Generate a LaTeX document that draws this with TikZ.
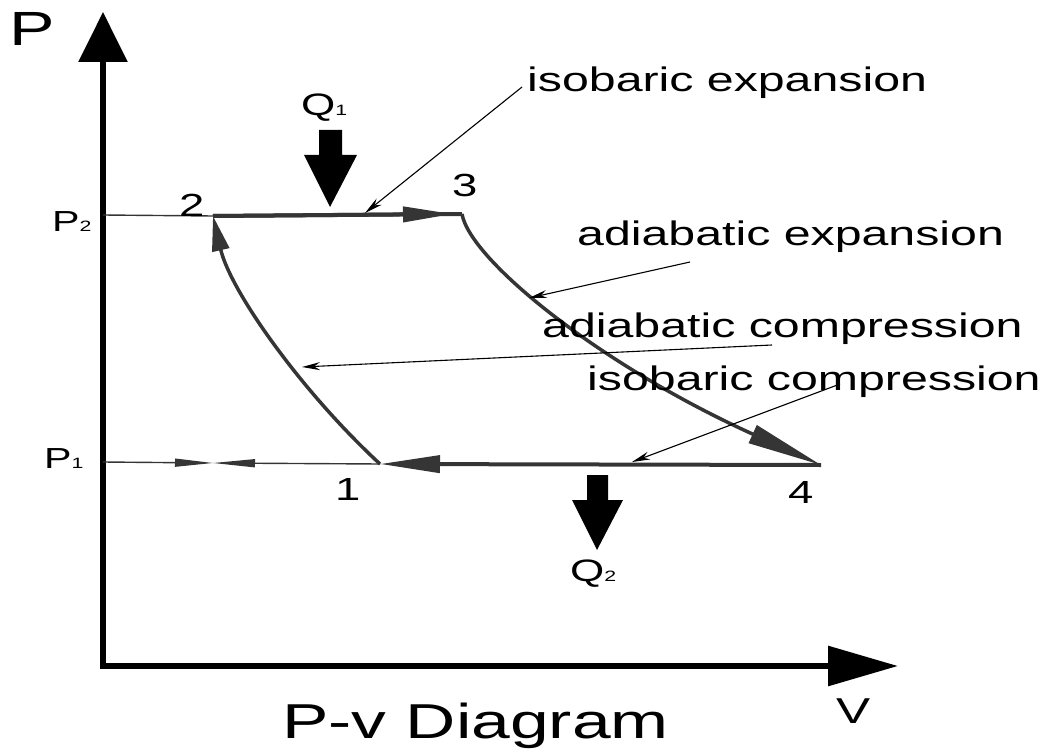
\documentclass[tikz,border=0pt]{standalone}
\usepackage{fontspec}
\setmainfont{Liberation Sans}[FakeStretch=1.42]
\usetikzlibrary{arrows.meta}
\definecolor{cyc}{HTML}{353535}
\begin{document}
\begin{tikzpicture}[x=1pt,y=-1pt,
  lbl/.style={inner sep=0pt, anchor=base west, font=\fontsize{34}{38}\selectfont},
  num/.style={inner sep=0pt, anchor=base west, font=\fontsize{32}{36}\selectfont},
  sym/.style={inner sep=0pt, anchor=base west, font=\fontsize{31}{34}\selectfont},
  pointer/.style={draw=black, line width=1.1pt, -{Stealth[length=18pt,width=8pt]}},
  thinline/.style={draw=cyc, line width=1.4pt},
  isobar/.style={draw=cyc, line width=4pt},
  adiabat/.style={draw=cyc, line width=3.5pt},
  heat/.style={fill=black},
]
\useasboundingbox (0,0) rectangle (1043,751);

% key points
\coordinate (O) at (103,666);
\coordinate (Ytip) at (103,12);
\coordinate (Xtip) at (898,666);
\coordinate (c1) at (380,464);
\coordinate (c2) at (213,216);
\coordinate (c3) at (462,214);
\coordinate (c4) at (821,465);
\coordinate (a23) at (453,214);
\coordinate (p2ax) at (103,215);
\coordinate (p1ax) at (103,462);
\coordinate (p1m) at (213,463);

% axes
\draw[line width=6pt, line join=miter,
  {Triangle[length=50pt,width=48pt]}-{Triangle[length=70pt,width=39pt]}]
  (Ytip) -- (O) -- (Xtip);

% pressure guide lines
\draw[thinline] (p2ax) -- (c2);
\draw[thinline, -{Triangle[length=38pt,width=8pt]}] (p1ax) -- (p1m);
\draw[thinline, -{Triangle[length=42pt,width=8pt]}] (c1) -- (p1m);

% cycle
\draw[isobar] (c2) -- (c3);
\draw[isobar, -{Triangle[length=50pt,width=15pt]}] (c2) -- (a23);
\draw[adiabat, -{Triangle[length=75pt,width=19pt]}] (c3) .. controls (470,260) and (600,365) .. (c4);
\draw[isobar, -{Triangle[length=60pt,width=17pt]}] (c4) -- (c1);
\draw[adiabat, -{Triangle[length=35pt,width=17pt]}] (c1) .. controls (300,390) and (230,290) .. (c2);

% heat arrows
\fill[heat] (319,130) -- (342,130) -- (342,155) -- (357,155) -- (330,207) -- (304,155) -- (319,155) -- cycle;
\fill[heat] (587,475) -- (608,475) -- (608,500) -- (623,500) -- (597,550) -- (572,500) -- (587,500) -- cycle;

% axis labels
\node[inner sep=0pt, anchor=base west, font=\fontsize{48}{52}\selectfont] (Plab) at (9,46) {P};
\node[inner sep=0pt, anchor=base west, font=\fontsize{36}{40}\selectfont] (Vlab) at (836,723) {V};
\node[inner sep=0pt, anchor=base west, font=\fontsize{49}{56}\selectfont] (title) at (282,738) {P-v Diagram};
\node[sym, font=\fontsize{29}{32}\selectfont] (P2) at (52,232) {P{\fontsize{15}{15}\selectfont 2}};
\node[sym, font=\fontsize{29}{32}\selectfont] (P1) at (44,468) {P{\fontsize{15}{15}\selectfont 1}};
\node[sym] (Q1) at (301,116) {Q{\fontsize{15}{15}\selectfont 1}};
\node[sym] (Q2) at (570,581) {Q{\fontsize{15}{15}\selectfont 2}};

% state numbers
\node[num] (n1) at (335,500) {1};
\node[num] (n2) at (179,217) {2};
\node[num] (n3) at (452,197) {3};
\node[num] (n4) at (788,503) {4};

% process labels
\node[lbl] (tIE) at (527,92) {isobaric expansion};
\node[lbl] (tAE) at (577,246) {adiabatic expansion};
\node[lbl] (tAC) at (542,337) {adiabatic compression};
\node[lbl] (tIC) at (587,390) {isobaric compression};

\coordinate (sIE) at (522,87);  \coordinate (eIE) at (365,213);
\coordinate (sAE) at (690,262); \coordinate (eAE) at (529,298);
\coordinate (sAC) at (772,345); \coordinate (eAC) at (302,367);
\coordinate (sIC) at (840,384); \coordinate (eIC) at (632,462);
\draw[pointer] (sIE) -- (eIE);
\draw[pointer] (sAE) -- (eAE);
\draw[pointer] (sAC) -- (eAC);
\draw[pointer] (sIC) -- (eIC);
\end{tikzpicture}
\end{document}
